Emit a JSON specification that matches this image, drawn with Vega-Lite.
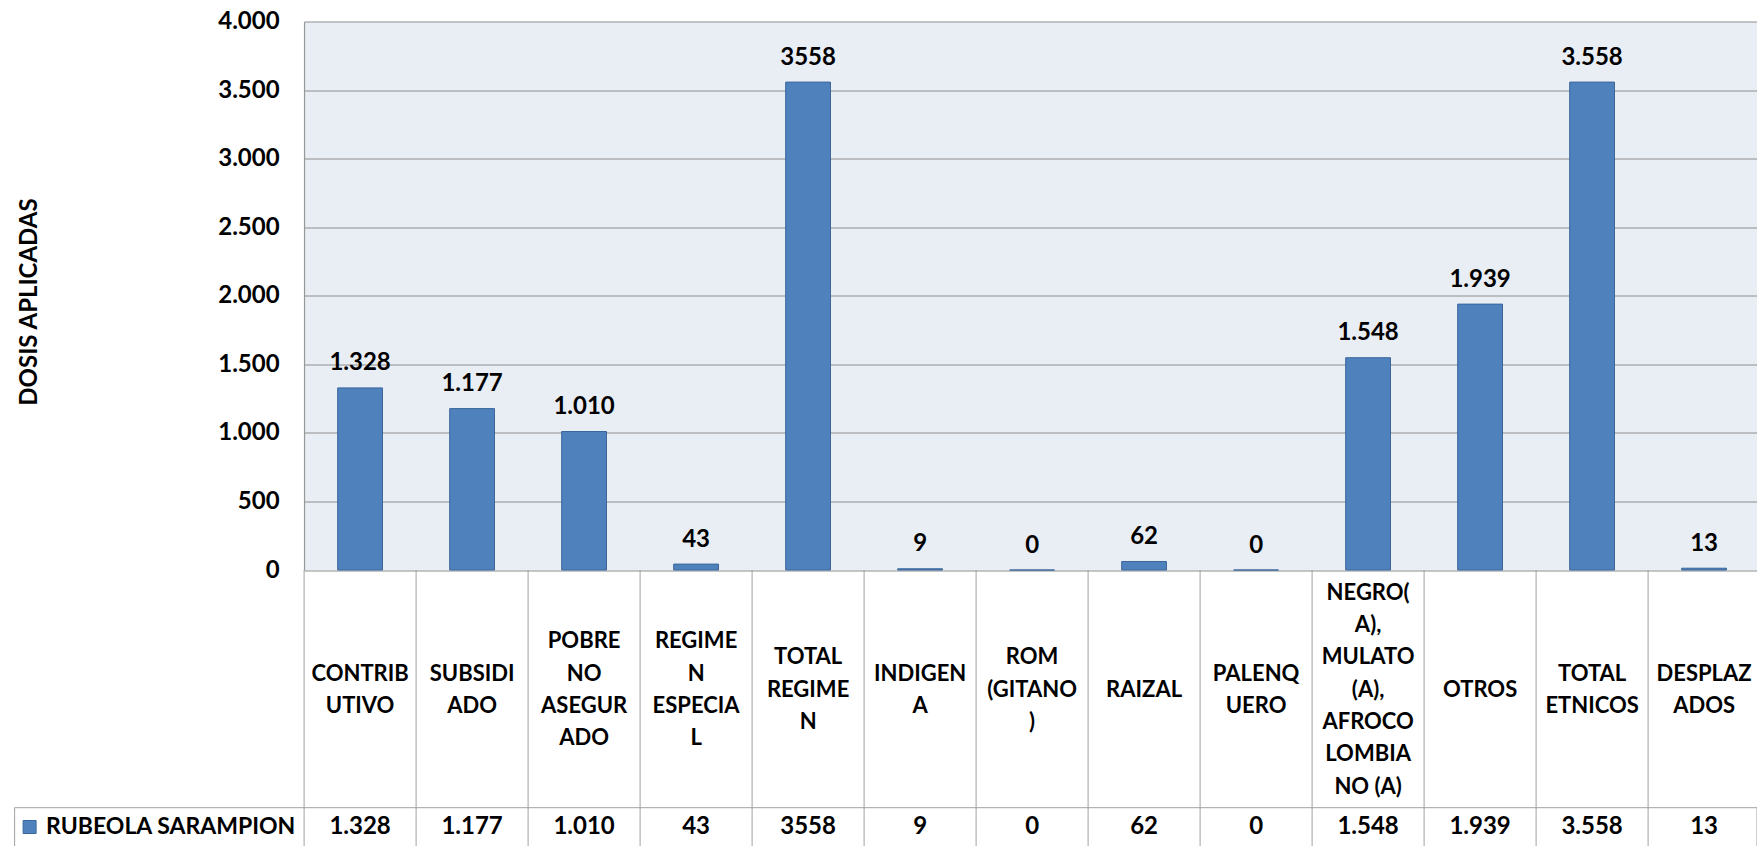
{
  "$schema": "https://vega.github.io/schema/vega-lite/v6.json",
  "width": 1742.4,
  "height": 548.5,
  "autosize": {"type": "none"},
  "padding": {"left": 14.6, "top": 21.5, "right": 0, "bottom": 276},
  "background": "#ffffff",
  "config": {
    "view": {"stroke": null},
    "font": "Lato",
    "text": {"font": "Lato", "fontWeight": "bold", "fontSize": 24, "color": "#000000"}
  },
  "data": {
    "values": [
      {"categoria": "CONTRIBUTIVO", "rotulo": "CONTRIB\nUTIVO", "valor": 1328, "etiqueta": "1.328", "serie": "RUBEOLA SARAMPION"},
      {"categoria": "SUBSIDIADO", "rotulo": "SUBSIDI\nADO", "valor": 1177, "etiqueta": "1.177", "serie": "RUBEOLA SARAMPION"},
      {"categoria": "POBRE NO ASEGURADO", "rotulo": "POBRE\nNO\nASEGUR\nADO", "valor": 1010, "etiqueta": "1.010", "serie": "RUBEOLA SARAMPION"},
      {"categoria": "REGIMEN ESPECIAL", "rotulo": "REGIME\nN\nESPECIA\nL", "valor": 43, "etiqueta": "43", "serie": "RUBEOLA SARAMPION"},
      {"categoria": "TOTAL REGIMEN", "rotulo": "TOTAL\nREGIME\nN", "valor": 3558, "etiqueta": "3558", "serie": "RUBEOLA SARAMPION"},
      {"categoria": "INDIGENA", "rotulo": "INDIGEN\nA", "valor": 9, "etiqueta": "9", "serie": "RUBEOLA SARAMPION"},
      {"categoria": "ROM (GITANO)", "rotulo": "ROM\n(GITANO\n)", "valor": 0, "etiqueta": "0", "serie": "RUBEOLA SARAMPION"},
      {"categoria": "RAIZAL", "rotulo": "RAIZAL", "valor": 62, "etiqueta": "62", "serie": "RUBEOLA SARAMPION"},
      {"categoria": "PALENQUERO", "rotulo": "PALENQ\nUERO", "valor": 0, "etiqueta": "0", "serie": "RUBEOLA SARAMPION"},
      {"categoria": "NEGRO(A), MULATO(A), AFROCOLOMBIANO (A)", "rotulo": "NEGRO(\nA),\nMULATO\n(A),\nAFROCO\nLOMBIA\nNO (A)", "valor": 1548, "etiqueta": "1.548", "serie": "RUBEOLA SARAMPION"},
      {"categoria": "OTROS", "rotulo": "OTROS", "valor": 1939, "etiqueta": "1.939", "serie": "RUBEOLA SARAMPION"},
      {"categoria": "TOTAL ETNICOS", "rotulo": "TOTAL\nETNICOS", "valor": 3558, "etiqueta": "3.558", "serie": "RUBEOLA SARAMPION"},
      {"categoria": "DESPLAZADOS", "rotulo": "DESPLAZ\nADOS", "valor": 13, "etiqueta": "13", "serie": "RUBEOLA SARAMPION"}
    ]
  },
  "layer": [
    {
      "mark": {"type": "bar", "width": {"band": 0.4}, "stroke": "#3A679C", "strokeWidth": 1},
      "encoding": {
        "x": {
          "field": "categoria", "type": "nominal", "sort": null,
          "scale": {"range": [289.5, 1745.5], "paddingInner": 0, "paddingOuter": 0},
          "axis": {
            "grid": true, "gridColor": "#E9EDF4", "gridWidth": 113, "bandPosition": 0.5,
            "labels": false, "ticks": false, "domain": false, "title": null
          }
        },
        "y": {
          "field": "valor", "type": "quantitative",
          "scale": {"domain": [0, 4000], "nice": false},
          "axis": {
            "title": "DOSIS APLICADAS",
            "values": [0, 500, 1000, 1500, 2000, 2500, 3000, 3500, 4000],
            "offset": -289.5,
            "grid": true, "gridColor": "#8E8E8E", "gridWidth": 1,
            "domain": true, "domainColor": "#8E8E8E",
            "ticks": false, "tickSize": 0, "labelPadding": 25,
            "labelFont": "Lato", "labelFontSize": 24, "labelFontWeight": "bold", "labelColor": "#000000",
            "labelExpr": "replace(format(datum.value, ','), ',', '.')",
            "titleFont": "Lato", "titleFontSize": 24, "titleFontWeight": "bold", "titleColor": "#000000",
            "titleX": -275, "titleY": 280, "titleBaseline": "middle"
          }
        },
        "color": {
          "field": "serie", "type": "nominal",
          "scale": {"range": ["#4F81BD"]},
          "legend": {
            "orient": "none", "legendX": 3.5, "legendY": 794, "title": null,
            "symbolType": "square", "symbolSize": 169, "symbolStrokeColor": "#3A679C", "symbolStrokeWidth": 1,
            "labelFont": "Lato", "labelFontSize": 23, "labelFontWeight": "bold", "labelColor": "#000000",
            "labelOffset": 5, "labelLimit": 400, "padding": 0
          }
        }
      }
    },
    {
      "mark": {"type": "text", "baseline": "middle", "dy": -24.5},
      "encoding": {
        "x": {"field": "categoria", "type": "nominal", "sort": null},
        "y": {"field": "valor", "type": "quantitative"},
        "text": {"field": "etiqueta"}
      }
    },
    {
      "transform": [{"filter": "length(split(datum.rotulo, '\\n')) === 1"}],
      "mark": {"type": "text", "baseline": "middle", "lineBreak": "\n", "lineHeight": 32.3, "fontSize": 22},
      "encoding": {
        "x": {"field": "categoria", "type": "nominal", "sort": null},
        "y": {"datum": -873.6},
        "text": {"field": "rotulo"}
      }
    },
    {
      "transform": [{"filter": "length(split(datum.rotulo, '\\n')) === 2"}],
      "mark": {"type": "text", "baseline": "middle", "lineBreak": "\n", "lineHeight": 32.3, "fontSize": 22},
      "encoding": {
        "x": {"field": "categoria", "type": "nominal", "sort": null},
        "y": {"datum": -755.9},
        "text": {"field": "rotulo"}
      }
    },
    {
      "transform": [{"filter": "length(split(datum.rotulo, '\\n')) === 3"}],
      "mark": {"type": "text", "baseline": "middle", "lineBreak": "\n", "lineHeight": 32.3, "fontSize": 22},
      "encoding": {
        "x": {"field": "categoria", "type": "nominal", "sort": null},
        "y": {"datum": -638.1},
        "text": {"field": "rotulo"}
      }
    },
    {
      "transform": [{"filter": "length(split(datum.rotulo, '\\n')) === 4"}],
      "mark": {"type": "text", "baseline": "middle", "lineBreak": "\n", "lineHeight": 32.3, "fontSize": 22},
      "encoding": {
        "x": {"field": "categoria", "type": "nominal", "sort": null},
        "y": {"datum": -520.3},
        "text": {"field": "rotulo"}
      }
    },
    {
      "transform": [{"filter": "length(split(datum.rotulo, '\\n')) === 7"}],
      "mark": {"type": "text", "baseline": "middle", "lineBreak": "\n", "lineHeight": 32.3, "fontSize": 22},
      "encoding": {
        "x": {"field": "categoria", "type": "nominal", "sort": null},
        "y": {"datum": -167},
        "text": {"field": "rotulo"}
      }
    },
    {
      "mark": {"type": "text", "baseline": "middle"},
      "encoding": {
        "x": {"field": "categoria", "type": "nominal", "sort": null},
        "y": {"datum": -1877},
        "text": {"field": "etiqueta"}
      }
    },
    {
      "mark": {"type": "rule", "stroke": "#A0A0A0", "strokeWidth": 1},
      "encoding": {
        "x": {"field": "categoria", "type": "nominal", "sort": null, "bandPosition": 0},
        "y": {"datum": 0},
        "y2": {"datum": -2500}
      }
    },
    {
      "transform": [{"filter": "datum.categoria === 'CONTRIBUTIVO'"}],
      "mark": {"type": "rect", "fill": null, "fillOpacity": 0, "stroke": "#A0A0A0", "strokeWidth": 1},
      "encoding": {
        "y": {"datum": -1733.5},
        "y2": {"datum": -2500}
      }
    }
  ]
}
